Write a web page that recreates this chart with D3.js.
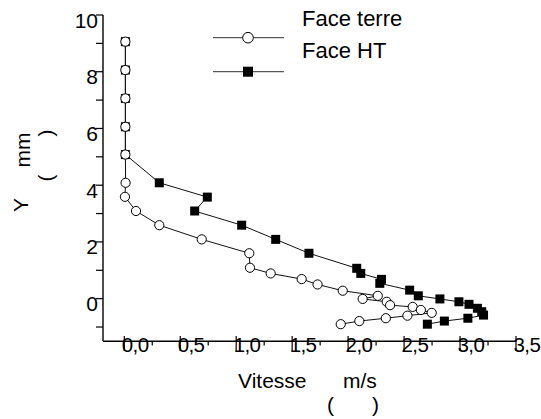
<!DOCTYPE html>
<html><head><meta charset="utf-8">
<script src="https://cdn.jsdelivr.net/npm/d3@7"></script>
<style>body{margin:0;background:#fff}text{font-family:"Liberation Sans",Arial,sans-serif;fill:#000}</style>
</head><body><svg id="c" width="541" height="419"></svg>
<script>
// Face terre (open circles)
const terreX = [0.01,0.01,0.01,0.01,0.01,0.012,0.006,0.105,0.313,0.692,1.117,1.123,1.308,1.585,1.727,1.952,2.265,2.13,2.345,2.375,2.577,2.65,2.747,2.53,2.337,2.10,1.934];
const terreY = [9.06,8.06,7.06,6.06,5.08,4.085,3.59,3.09,2.59,2.09,1.60,1.09,0.89,0.69,0.50,0.28,0.10,-0.01,-0.11,-0.23,-0.29,-0.40,-0.50,-0.60,-0.69,-0.79,-0.90];
// Face HT (filled squares)
const htX = [0.01,0.01,0.01,0.01,0.01,0.313,0.742,0.629,1.049,1.353,1.65,2.077,2.113,2.298,2.283,2.55,2.627,2.82,2.99,3.08,3.155,3.194,3.21,3.07,2.86,2.708];
const htY = [9.06,8.06,7.06,6.06,5.08,4.085,3.58,3.09,2.59,2.09,1.60,1.07,0.89,0.68,0.54,0.30,0.10,-0.01,-0.11,-0.20,-0.34,-0.46,-0.58,-0.69,-0.79,-0.90];
const seriesNames = ["Face terre","Face HT"];
const xMajor = [0,0.5,1,1.5,2,2.5,3,3.5];
const xMajorLabels = ["0,0","0,5","1,0","1,5","2,0","2,5","3,0","3,5"];
const xMinor = [0.25,0.75,1.25,1.75,2.25,2.75,3.25];
const yTicks = [-1,0,1,2,3,4,5,6,7,8,9,10];
const yLabels = [0,2,4,6,8,10];

const svg = d3.select("#c");
const x = d3.scaleLinear().domain([-0.19,3.5]).range([103,516]);
const y = d3.scaleLinear().domain([-1.5,10]).range([341.2,15]);

// axes lines
svg.append("line").attr("x1",x(-0.19)).attr("x2",x(-0.19)).attr("y1",y(10)).attr("y2",y(-1.5)).attr("stroke","#000").attr("stroke-width",1.4);
svg.append("line").attr("x1",x(-0.19)).attr("x2",x(3.5)).attr("y1",y(-1.5)).attr("y2",y(-1.5)).attr("stroke","#000").attr("stroke-width",1.4);

// y ticks
svg.selectAll(".yt").data(yTicks).join("line").attr("x1",96).attr("x2",x(-0.19)).attr("y1",d=>y(d)).attr("y2",d=>y(d)).attr("stroke","#000").attr("stroke-width",1.2);
svg.selectAll(".yl").data(yLabels).join("text").attr("x",98).attr("y",d=>y(d)+12.5).attr("text-anchor","end").attr("font-size",21).text(d=>d);

// x ticks
svg.selectAll(".xt").data(xMajor).join("line").attr("x1",d=>x(d)).attr("x2",d=>x(d)).attr("y1",336).attr("y2",351).attr("stroke","#000").attr("stroke-width",1.2);
svg.selectAll(".xm").data(xMinor).join("line").attr("x1",d=>x(d)).attr("x2",d=>x(d)).attr("y1",341).attr("y2",345.5).attr("stroke","#000").attr("stroke-width",1.2);
svg.selectAll(".xl").data(xMajor).join("text").attr("x",d=>x(d)-2.5).attr("y",352).attr("font-size",20.5).attr("letter-spacing",-0.6).text((d,i)=>xMajorLabels[i]);

// axis titles
svg.append("text").attr("x",238).attr("y",388).attr("font-size",21).text("Vitesse");
svg.append("text").attr("x",343).attr("y",388).attr("font-size",21).text("m/s");
svg.append("text").attr("x",327).attr("y",412).attr("font-size",21).text("(");
svg.append("text").attr("x",372).attr("y",412).attr("font-size",21).text(")");
svg.append("text").attr("transform","translate(28,205) rotate(-90)").attr("text-anchor","middle").attr("font-size",21).text("Y");
svg.append("text").attr("transform","translate(30,150) rotate(-90)").attr("text-anchor","middle").attr("font-size",21).text("mm");
svg.append("text").attr("transform","translate(53,178) rotate(-90)").attr("text-anchor","middle").attr("font-size",21).text("(");
svg.append("text").attr("transform","translate(53,133) rotate(-90)").attr("text-anchor","middle").attr("font-size",21).text(")");

const line = d3.line().x(d=>x(d[0])).y(d=>y(d[1]));
const ht = htX.map((v,i)=>[v,htY[i]]);
const te = terreX.map((v,i)=>[v,terreY[i]]);
const sq = 9;

svg.append("path").attr("d",line(ht)).attr("fill","none").attr("stroke","#111").attr("stroke-width",1);
svg.selectAll(".sq").data(ht).join("rect").attr("x",d=>x(d[0])-sq/2).attr("y",d=>y(d[1])-sq/2).attr("width",sq).attr("height",sq).attr("fill","#000");
svg.append("path").attr("d",line(te)).attr("fill","none").attr("stroke","#111").attr("stroke-width",1);
svg.selectAll(".ci").data(te).join("circle").attr("cx",d=>x(d[0])).attr("cy",d=>y(d[1])).attr("r",4.6).attr("fill","#fff").attr("stroke","#000").attr("stroke-width",1);

// legend
const lg = svg.append("g");
lg.append("line").attr("x1",213).attr("x2",284).attr("y1",37.7).attr("y2",37.7).attr("stroke","#333");
lg.append("circle").attr("cx",248).attr("cy",37.7).attr("r",5.3).attr("fill","#fff").attr("stroke","#000");
lg.append("line").attr("x1",213).attr("x2",284).attr("y1",71.7).attr("y2",71.7).attr("stroke","#333");
lg.append("rect").attr("x",248-5).attr("y",71.7-5).attr("width",10).attr("height",10).attr("fill","#000");
lg.append("text").attr("x",302).attr("y",26).attr("font-size",22).text(seriesNames[0]);
lg.append("text").attr("x",302).attr("y",58).attr("font-size",22).text(seriesNames[1]);
</script></body></html>
